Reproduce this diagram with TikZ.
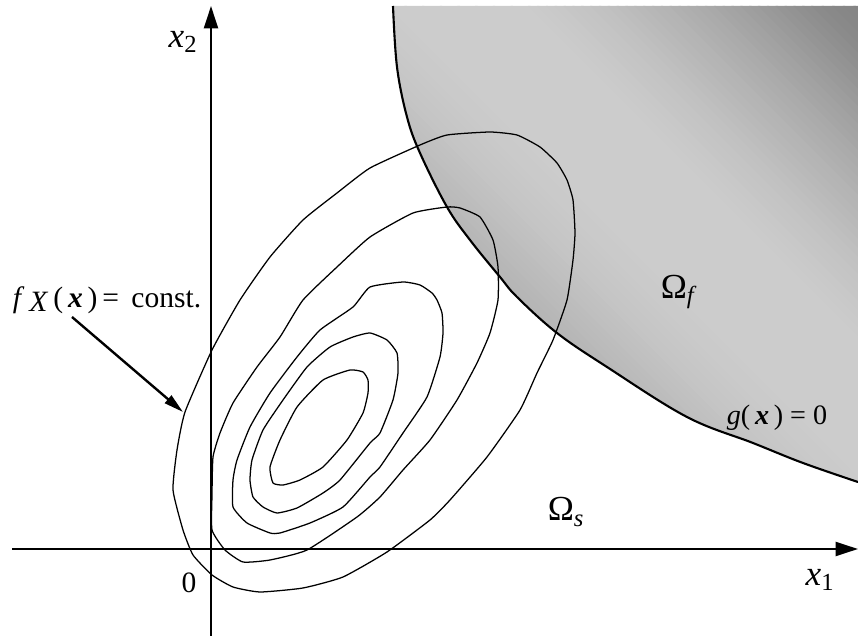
\documentclass[tikz,border=0pt]{standalone}
\usepackage{fontspec}
\setmainfont{Liberation Serif}
\usetikzlibrary{arrows.meta}
\tikzset{
  every picture/.style={line width=0.9pt},
  axis/.style={-{Triangle[length=16pt,width=10pt]}, line width=1.7pt},
  contour/.style={line width=0.9pt, line join=round},
  limit/.style={line width=1.5pt},
  pointer/.style={-{Triangle[length=14pt,width=7pt]}, line width=1.7pt},
  biglbl/.style={font=\fontsize{25}{30}\selectfont, inner sep=0pt},
  midlbl/.style={font=\fontsize{21}{25}\selectfont, inner sep=0pt},
  smalllbl/.style={font=\fontsize{20}{24}\selectfont, inner sep=0pt},
}

\begin{document}
\begin{tikzpicture}[x=0.025cm, y=-0.025cm]
  \useasboundingbox (0,0) rectangle (858,636);
  % failure domain, shaded in diagonal strips
  \begin{scope}
    \clip plot[smooth, tension=0.6] coordinates {(393,6) (397,67) (407,117) (420,153) (447,207) (470,240) (500,277) (517,297) (557,333) (607,367) (687,417) (753,443) (803,463) (858,482)}
      -- (858,6) -- cycle;
    \foreach \da/\db/\ca/\cb in {-360/-130/32/31, -130/-90/31/27, -90/-50/27/23, -50/0/23/20, 0/100/20/20, 100/150/20/24, 150/200/24/30, 200/250/30/37, 250/300/37/45, 300/360/45/51} {
      \foreach \k in {0,...,7} {
        \pgfmathsetmacro\dlo{\da+(\db-\da)*\k/8}
        \pgfmathsetmacro\dhi{\da+(\db-\da)*(\k+1)/8+1.5}
        \pgfmathsetmacro\cc{\ca+(\cb-\ca)*(\k+0.5)/8}
        \fill[black!\cc] ({625+0.7071*(\dlo-400)},{244-0.7071*(\dlo+400)}) -- ({625+0.7071*(\dlo+400)},{244+0.7071*(400-\dlo)})
          -- ({625+0.7071*(\dhi+400)},{244+0.7071*(400-\dhi)}) -- ({625+0.7071*(\dhi-400)},{244-0.7071*(\dhi+400)}) -- cycle;
      }
    }
  \end{scope}
  \draw[limit] plot[smooth, tension=0.6] coordinates {(393,6) (397,67) (407,117) (420,153) (447,207) (470,240) (500,277) (517,297) (557,333) (607,367) (687,417) (753,443) (803,463) (858,482)};

  % axes
  \coordinate (o) at (211,549);
  \coordinate (xl) at (12,549);
  \coordinate (xm) at (157,549);
  \coordinate (xe) at (858,549);
  \coordinate (yb) at (211,636);
  \coordinate (ye) at (211,6);
  \draw[line width=0.9pt] (xl) -- (xm);
  \draw[axis] (xm) -- (xe);
  \draw[axis] (yb) -- (ye);

  % contours of the density
  \draw[contour] plot[smooth cycle, tension=0.3] coordinates {(420,145) (447,135) (490,132) (517,135) (540,147) (557,163) (567,180) (573,200) (575,233) (573,260) (567,300) (553,340) (537,373) (520,410) (487,457) (450,500) (430,520) (387,552) (343,577) (303,588) (260,592) (233,587) (212,575) (193,555) (183,530) (173,490) (177,450) (185,412) (212,350) (240,300) (270,257) (303,220) (337,193) (370,168)};
  \draw[contour] plot[smooth cycle, tension=0.3] coordinates {(370,237) (413,213) (447,207) (460,208) (480,217) (493,240) (498,267) (498,300) (490,333) (477,363) (457,400) (430,440) (403,470) (380,497) (357,517) (307,550) (270,560) (243,562) (225,550) (212,530) (212,495) (213,457) (220,433) (233,403) (257,367) (280,337) (303,300) (337,267)};
  \draw[contour] plot[smooth cycle, tension=0.3] coordinates {(370,287) (403,282) (420,285) (432,293) (437,300) (442,313) (443,333) (440,357) (427,397) (403,433) (380,467) (370,477) (343,507) (310,523) (280,533) (270,533) (247,523) (233,507) (233,480) (237,460) (250,427) (270,393) (297,357) (320,330) (353,307)};
  \draw[contour] plot[smooth cycle, tension=0.3] coordinates {(370,333) (387,340) (397,353) (398,373) (393,400) (380,433) (370,443) (340,480) (323,493) (297,508) (277,513) (263,507) (253,497) (250,480) (252,460) (263,430) (283,400) (307,367) (330,347) (353,337)};
  \draw[contour] plot[smooth cycle, tension=0.3] coordinates {(350,370) (363,372) (368,380) (368,393) (363,413) (347,440) (323,467) (300,480) (283,485) (273,483) (270,467) (280,440) (297,407) (323,380)};

  % labels
  \node[biglbl] (x2) at (183,42) {\textit{x}\textsubscript{2}};
  \node[biglbl] (x1) at (820,580) {\textit{x}\textsubscript{1}};
  \node[midlbl] (zero) at (189,583) {0};
  \node[biglbl] (omf) at (679,292) {Ω\textsubscript{\textit{f}}};
  \node[biglbl] (oms) at (566,512) {Ω\textsubscript{\textit{s}}};
  \node[smalllbl] (glim) at (777,418) {\textit{g}(\,\textbf{\textit{x}}\,) = 0};
  \node[midlbl] (fx) at (107,300) {\textit{f}\,\raisebox{-0.15em}{\textit{X}}\,(\,\textbf{\textit{x}}\,)\,= \,const.};
  \coordinate (tip) at (183,412);
  \draw[pointer] (72,317) -- (tip);
\end{tikzpicture}
\end{document}
